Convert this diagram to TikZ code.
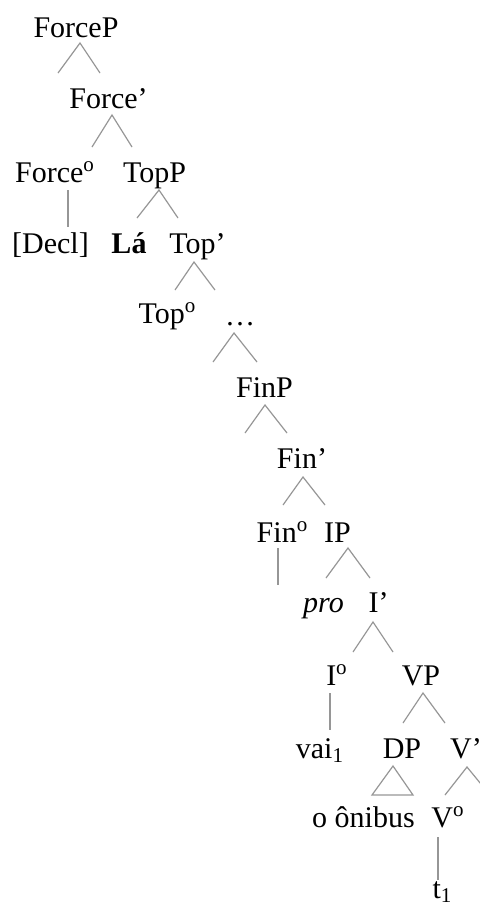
\documentclass[tikz,border=0pt]{standalone}
\usepackage{fontspec}
\setmainfont{Liberation Serif}
\definecolor{branchgray}{RGB}{150,150,150}
\newcommand{\hdo}{\textsuperscript{o}}
\tikzset{
  lab/.style={anchor=base, inner sep=0pt, font=\fontsize{15}{18}\selectfont},
  branch/.style={draw=branchgray, line width=0.6pt}
}
\begin{document}
\begin{tikzpicture}[x=0.5pt, y=-0.5pt]
    \useasboundingbox (0,0) rectangle (479,907);

    % labels, placed at their baselines
    \node[lab] (forceP) at (76,37) {ForceP};
    \node[lab] (forceBar) at (108.5,108) {Force’};
    \node[lab] (forceHead) at (55,182) {Force\hdo};
    \node[lab] (topP) at (154.5,182) {TopP};
    \node[lab] (decl) at (50.5,253) {[Decl]};
    \node[lab, font=\fontsize{15}{18}\selectfont\bfseries] (la) at (129,253) {Lá};
    \node[lab] (topBar) at (197.5,253) {Top’};
    \node[lab] (topHead) at (167.5,323) {Top\hdo};
    \node[lab] (dots) at (240,325) {\dots};
    \node[lab] (finP) at (264.5,397) {FinP};
    \node[lab] (finBar) at (302,468) {Fin’};
    \node[lab] (finHead) at (282.5,542) {Fin\hdo};
    \node[lab] (iP) at (337.5,542) {IP};
    \node[lab, font=\fontsize{15}{18}\selectfont\itshape] (pro) at (323.5,612) {pro};
    \node[lab] (iBar) at (378.5,612) {I’};
    \node[lab] (iHead) at (337,685) {I\hdo};
    \node[lab] (vP) at (421,685) {VP};
    \node[lab] (vai) at (320,758) {vai\textsubscript{1}};
    \node[lab] (dP) at (402,758) {DP};
    \node[lab] (vBar) at (466,758) {V’};
    \node[lab] (onibus) at (363.5,827) {o ônibus};
    \node[lab] (vHead) at (448,827) {V\hdo};
    \node[lab] (trace) at (442.5,898) {t\textsubscript{1}};

    % branching
    \draw[branch] (forceP.base) ++(-18,36) -- ++(22,-30) -- ++(20,30);
    \draw[branch] (forceBar.base) ++(-16.5,39) -- ++(20,-32) -- ++(20,32);
    \draw[branch] (topP.base) ++(-17.5,36) -- ++(22,-28) -- ++(19,28);
    \draw[branch] (topBar.base) ++(-22.5,37) -- ++(19,-28) -- ++(21,28);
    \draw[branch] (dots.base) ++(-27,37) -- ++(21,-29) -- ++(23,29);
    \draw[branch] (finP.base) ++(-19.5,36) -- ++(20,-28) -- ++(22,28);
    \draw[branch] (finBar.base) ++(-19,37) -- ++(20,-28) -- ++(22,28);
    \draw[branch] (iP.base) ++(-11.5,36) -- ++(22,-30) -- ++(22,30);
    \draw[branch] (iBar.base) ++(-25.5,40) -- ++(20,-30) -- ++(20,30);
    \draw[branch] (vP.base) ++(-18,38) -- ++(20,-30) -- ++(22,30);
    \draw[branch] (vBar.base) ++(-21,37) -- ++(22,-28) -- ++(23,28);
    \draw[branch] (dP.base) ++(-9,8) -- ++(-21,29) -- ++(41,0) -- cycle;

    % heads
    \draw[branch] (forceHead.base) ++(13,8) -- ++(0,37);
    \draw[branch] (finHead.base) ++(-4.5,6) -- ++(0,37);
    \draw[branch] (iHead.base) ++(-7,8) -- ++(0,37);
    \draw[branch] (vHead.base) ++(-10,10) -- ++(0,43);
\end{tikzpicture}
\end{document}
